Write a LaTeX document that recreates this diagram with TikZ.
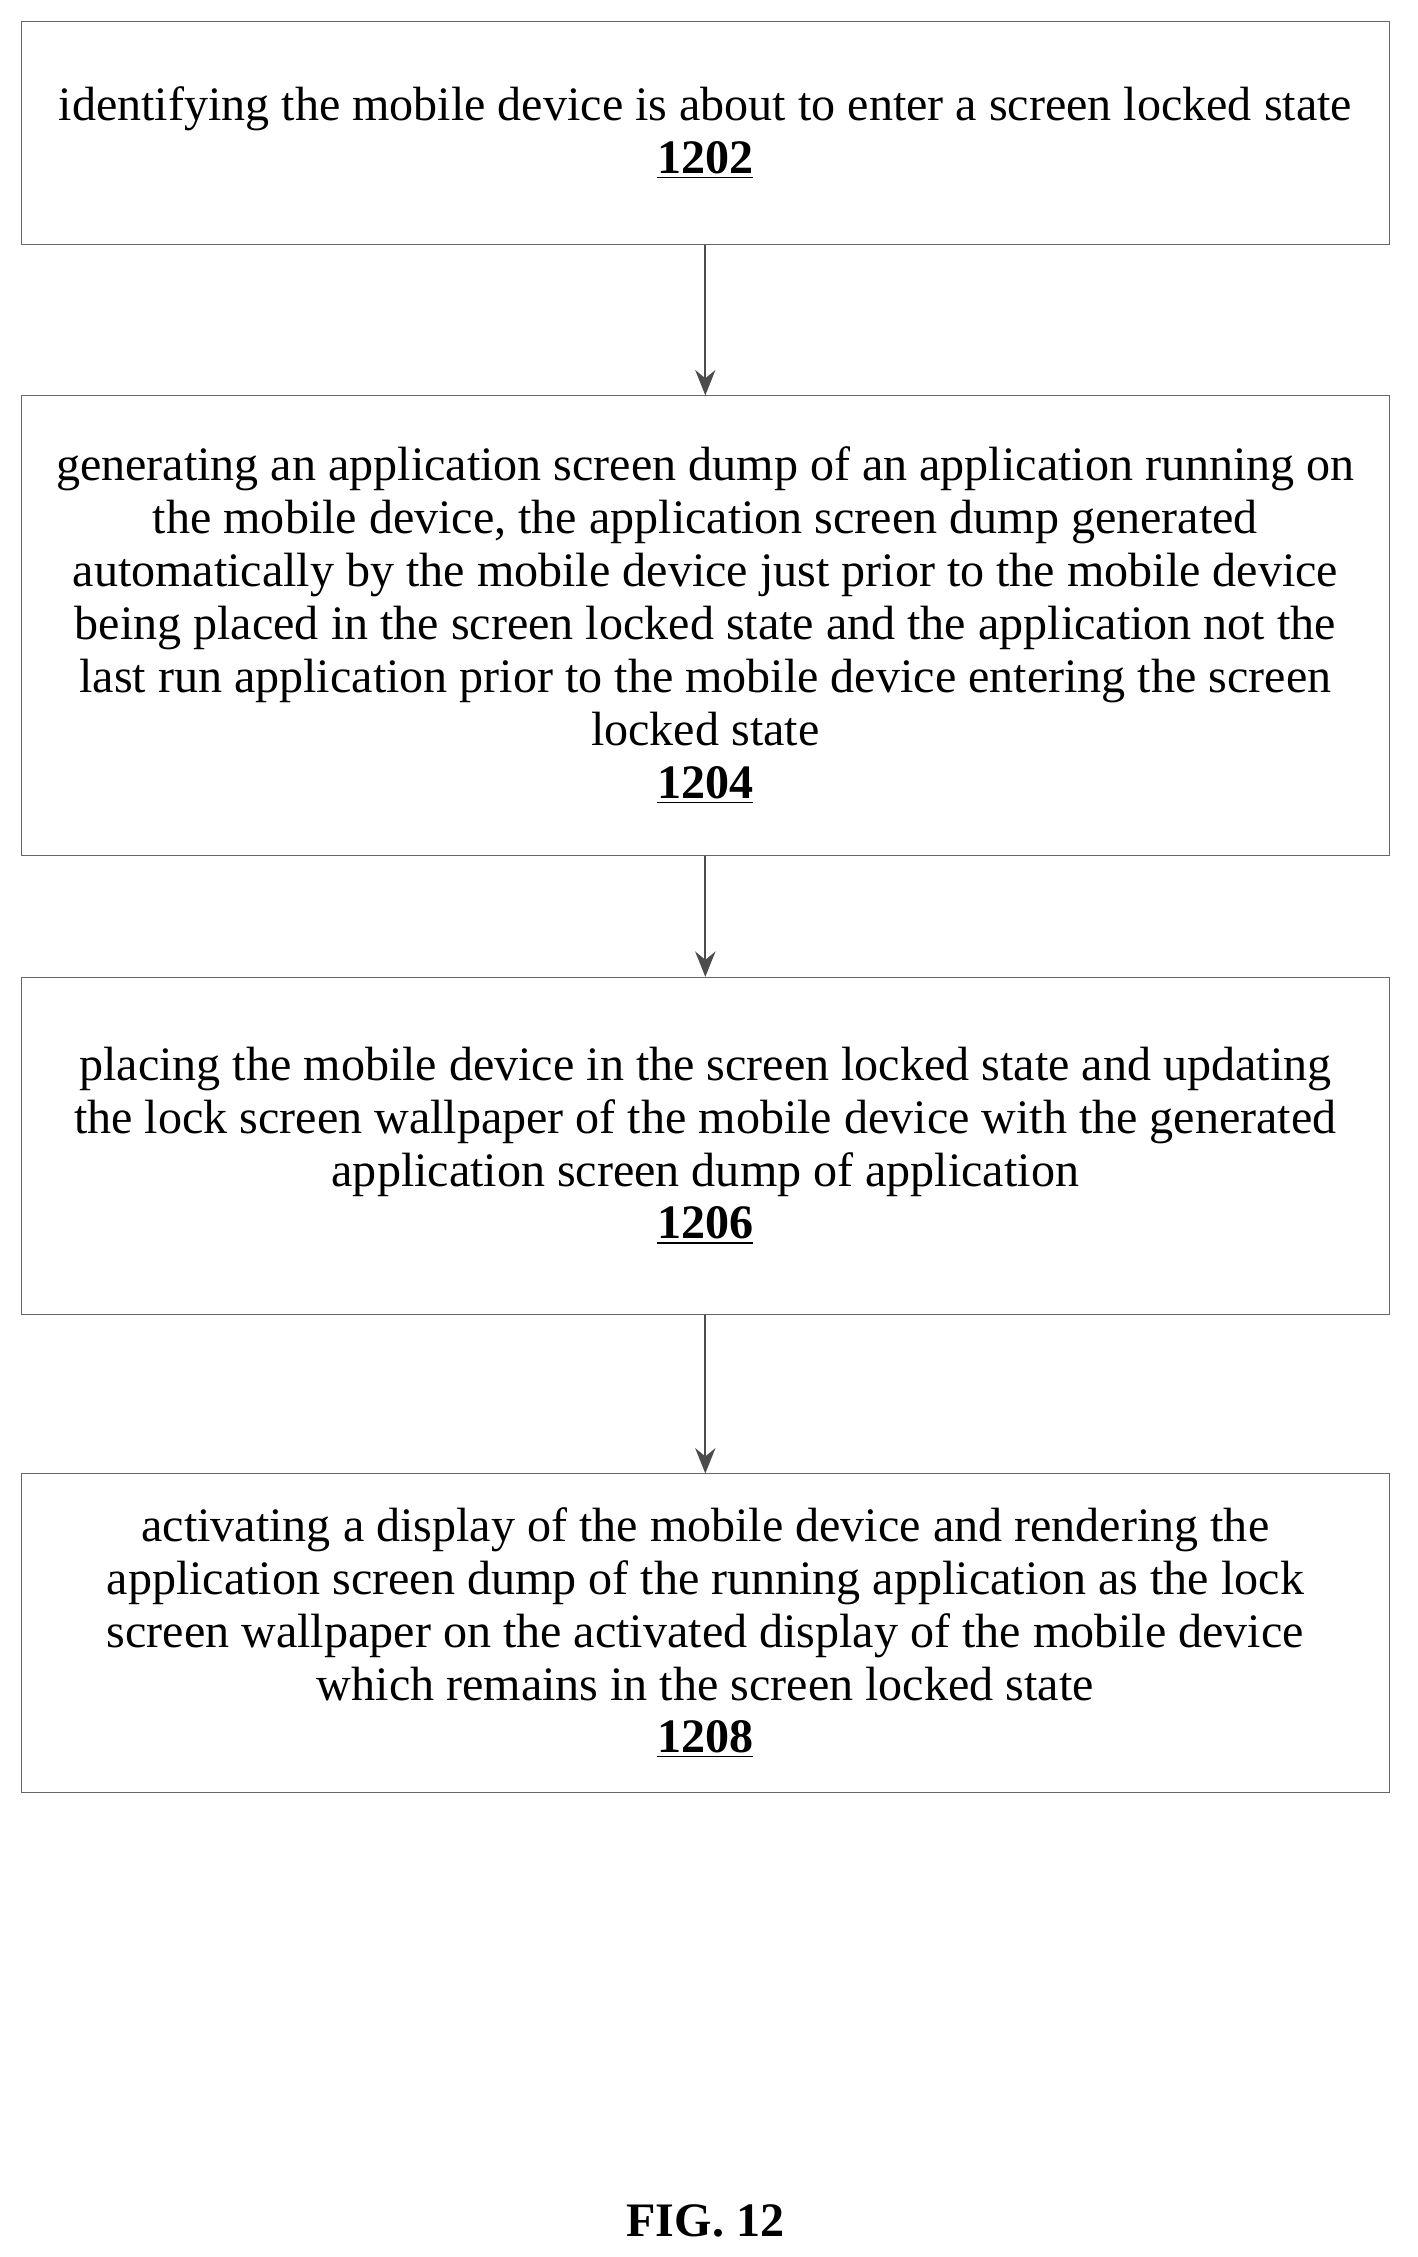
\documentclass[tikz,border=0pt]{standalone}
\usepackage{fontspec}
\setmainfont{Liberation Serif}
\usetikzlibrary{arrows.meta}
\tikzset{
  stepbox/.style={draw=black!60, thin, minimum width=19cm, align=center, inner sep=0pt, font=\fontsize{19}{20.9}\selectfont},
  flow/.style={draw=black!70, thick, -{Stealth[length=10pt,width=8pt]}}
}
\newcommand{\stepnum}[1]{\textbf{\underline{#1}}}
\begin{document}
\begin{tikzpicture}
	\useasboundingbox (0,0) rectangle (19.7,-31.36);

	\node [stepbox, minimum height=3.1cm] (s1) at (9.8,-1.85) {identifying the mobile device is about to enter a screen locked state\\ \stepnum{1202}};
	\node [stepbox, minimum height=6.38cm] (s2) at (9.8,-8.69) {generating an application screen dump of an application running on\\ the mobile device, the application screen dump generated\\ automatically by the mobile device just prior to the mobile device\\ being placed in the screen locked state and the application not the\\ last run application prior to the mobile device entering the screen\\ locked state\\ \stepnum{1204}};
	\node [stepbox, minimum height=4.68cm] (s3) at (9.8,-15.92) {placing the mobile device in the screen locked state and updating\\ the lock screen wallpaper of the mobile device with the generated\\ application screen dump of application\\ \stepnum{1206}};
	\node [stepbox, minimum height=4.42cm] (s4) at (9.8,-22.69) {activating a display of the mobile device and rendering the\\ application screen dump of the running application as the lock\\ screen wallpaper on the activated display of the mobile device\\ which remains in the screen locked state\\ \stepnum{1208}};

	\draw [flow] (s1) -- (s2);
	\draw [flow] (s2) -- (s3);
	\draw [flow] (s3) -- (s4);

	\node [font=\fontsize{19}{23}\selectfont\bfseries] (fig) at (9.8,-30.86) {FIG. 12};
\end{tikzpicture}
\end{document}
